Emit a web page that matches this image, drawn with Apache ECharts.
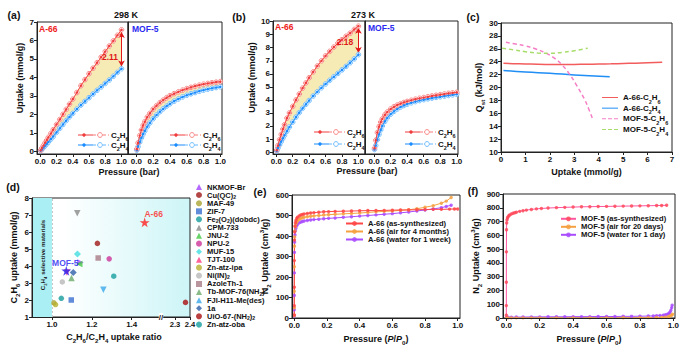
<!DOCTYPE html>
<html><head><meta charset="utf-8">
<script src="https://cdn.jsdelivr.net/npm/echarts@6.0.0/dist/echarts.min.js"></script>
<style>html,body{margin:0;padding:0;background:#fff}#c{width:693px;height:348px}</style>
</head><body><div id="c"></div>
<script>
const FONT = '"Liberation Sans", Arial, Helvetica, sans-serif';

// ---------------- (a)/(b) isotherm data ----------------
const pressure = [0.005,0.02,0.04,0.06,0.08,0.1,0.13,0.16,0.2,0.24,0.28,0.32,0.36,0.4,0.45,0.5,0.55,0.6,0.65,0.7,0.75,0.8,0.85,0.9,0.95,1.0];
const a66_298_C2H6 = [0.05,0.17,0.31,0.46,0.6,0.75,0.96,1.17,1.45,1.72,2.0,2.27,2.55,2.82,3.18,3.55,3.88,4.2,4.5,4.8,5.1,5.4,5.7,5.98,6.28,6.58];
const a66_298_C2H4 = [0.03,0.1,0.2,0.3,0.4,0.5,0.65,0.8,1.02,1.24,1.45,1.66,1.86,2.05,2.28,2.5,2.7,2.9,3.1,3.3,3.48,3.67,3.86,4.06,4.27,4.47];
const mof5_298_C2H6 = [0.12,0.45,0.85,1.15,1.4,1.6,1.85,2.05,2.28,2.47,2.63,2.77,2.9,3.01,3.12,3.22,3.31,3.39,3.46,3.52,3.58,3.63,3.67,3.71,3.74,3.77];
const mof5_298_C2H4 = [0.06,0.25,0.5,0.72,0.92,1.1,1.33,1.53,1.76,1.96,2.14,2.3,2.44,2.57,2.71,2.83,2.94,3.03,3.11,3.18,3.25,3.31,3.36,3.41,3.45,3.49];
const a66_273_C2H6 = [0.15,0.5,0.95,1.35,1.75,2.1,2.6,3.0,3.5,4.0,4.45,4.9,5.3,5.7,6.15,6.6,7.0,7.38,7.72,8.05,8.35,8.62,8.88,9.12,9.4,9.65];
const a66_273_C2H4 = [0.08,0.3,0.55,0.8,1.05,1.28,1.6,1.92,2.3,2.68,3.02,3.35,3.66,3.95,4.3,4.62,4.93,5.22,5.5,5.77,6.03,6.3,6.57,6.85,7.15,7.47];
const mof5_273_C2H6 = [0.3,0.9,1.5,1.95,2.3,2.55,2.85,3.07,3.3,3.47,3.6,3.71,3.8,3.88,3.97,4.05,4.12,4.18,4.24,4.3,4.35,4.4,4.45,4.5,4.54,4.58];
const mof5_273_C2H4 = [0.2,0.5,0.95,1.35,1.7,2.0,2.35,2.62,2.9,3.12,3.3,3.45,3.57,3.67,3.78,3.87,3.95,4.02,4.08,4.14,4.19,4.24,4.29,4.34,4.39,4.43];
const pressureTicks = [0,0.2,0.4,0.6,0.8,1.0];
const uptakeTicks298 = [0,1,2,3,4,5,6,7];
const uptakeTicks273 = [0,1,2,3,4,5,6,7,8,9,10];

// ---------------- (c) Qst ----------------
const qA66C2H6_x = [0.1,0.5,1,1.5,2,2.5,3,3.5,4,4.5,5,5.5,6,6.6];
const qA66C2H6_y = [23.75,23.7,23.65,23.6,23.58,23.57,23.58,23.6,23.63,23.67,23.72,23.77,23.83,23.9];
const qA66C2H4_x = [0.1,1,2,3,4.45];
const qA66C2H4_y = [22.65,22.4,22.2,21.95,21.65];
const qMOF5C2H6_x = [0.2,0.6,1.0,1.4,1.8,2.2,2.5,2.8,3.1,3.4,3.6,3.75];
const qMOF5C2H6_y = [27.0,26.75,26.45,26.0,25.4,24.5,23.5,22.1,20.3,18.3,16.6,15.1];
const qMOF5C2H4_x = [0.05,0.5,1.0,1.5,2.0,2.5,3.0,3.55];
const qMOF5C2H4_y = [26.1,25.85,25.55,25.35,25.3,25.45,25.7,26.1];

// ---------------- (d) comparison ----------------
const dNames = ['NKMOF-Br','Cu(QC)_2','MAF-49','ZIF-7','Fe_2(O_2)(dobdc)','CPM-733','JNU-2','NPU-2','MUF-15','TJT-100','Zn-atz-ipa','Ni(IN)_2','AzoleTh-1','Tb-MOF-76(NH_2)','FJI-H11-Me(des)','1a','UiO-67-(NH_2)_2','Zn-atz-oba'];
const dRatio  = [1.143,1.228,1.01,1.097,1.047,1.127,1.137,1.287,1.128,1.075,1.018,1.052,1.232,1.098,1.258,1.107,2.37,1.31];
const dUptake = [4.2,5.33,1.83,2.0,2.1,7.1,4.12,4.42,4.7,3.62,1.73,3.06,4.47,3.3,2.6,3.62,1.86,3.4];
const dStarNames = ['A-66','MOF-5'];
const dStarRatio = [1.465,1.072];
const dStarUptake = [6.57,3.72];
const dXTicks = [1.0,1.2,1.4];
const dXTicksBreak = [2.3,2.4];

// ---------------- (e) N2 A-66 ----------------
const eP_as = [0.00001,0.00003,0.0001,0.0003,0.001,0.002,0.004,0.007,0.01,0.015,0.02,0.03,0.04,0.05,0.06,0.08,0.1,0.12,0.15,0.18,0.21,0.25,0.3,0.35,0.4,0.45,0.5,0.55,0.6,0.65,0.7,0.75,0.8,0.85,0.9,0.95,0.98,1.0];
const eN2_as = [15,60,150,280,380,420,448,465,476,486,492,498,502,505,507,510,512,514,516,518,519,520,521,522,523,524,524,525,526,527,527,528,529,530,530,531,532,532];
const eP_air = [0.00001,0.00003,0.0001,0.0003,0.001,0.002,0.004,0.007,0.01,0.015,0.02,0.03,0.04,0.05,0.06,0.08,0.1,0.12,0.15,0.18,0.21,0.25,0.3,0.35,0.4,0.45,0.5,0.55,0.6,0.65,0.7,0.75,0.8,0.85,0.9,0.93,0.96];
const eN2_air = [12,50,130,250,350,395,425,445,458,468,474,481,486,489,491,494,496,498,500,502,504,506,508,510,512,515,518,520,522,525,528,533,540,548,560,570,588];
const eP_water = [0.00001,0.00003,0.0001,0.0003,0.001,0.002,0.004,0.007,0.01,0.015,0.02,0.03,0.04,0.05,0.06,0.08,0.1,0.12,0.15,0.18,0.21,0.25,0.3,0.35,0.4,0.45,0.5,0.55,0.6,0.65,0.7,0.75,0.8,0.85,0.9,0.93,0.96];
const eN2_water = [10,40,110,220,320,370,405,425,438,450,457,464,468,471,473,476,478,480,482,484,486,488,491,494,497,500,503,506,509,513,517,522,527,532,538,544,550];

// ---------------- (f) N2 MOF-5 ----------------
const fP_as = [0.00001,0.00003,0.0001,0.0003,0.001,0.002,0.004,0.007,0.01,0.015,0.02,0.03,0.04,0.05,0.06,0.08,0.1,0.12,0.15,0.18,0.21,0.25,0.3,0.35,0.4,0.45,0.5,0.55,0.6,0.65,0.7,0.75,0.8,0.85,0.9,0.93,0.96];
const fN2_as = [20,90,260,480,640,690,712,726,734,742,748,755,760,764,768,774,779,783,788,792,795,798,801,803,805,807,808,809,810,811,812,813,814,815,816,817,818];
const fP_air = [0.001,0.01,0.03,0.06,0.1,0.15,0.2,0.3,0.4,0.5,0.6,0.7,0.8,0.85,0.9,0.93,0.95,0.97,0.98,0.99,0.995];
const fN2_air = [1,1,1,1,1,1,1,1,1,1,1,1.5,2,2.5,3,4,6,10,14,20,27];
const fP_water = [0.001,0.01,0.03,0.06,0.1,0.15,0.2,0.25,0.3,0.35,0.4,0.45,0.5,0.55,0.6,0.65,0.7,0.75,0.8,0.85,0.88,0.9,0.92,0.94,0.95,0.96,0.97,0.975,0.98,0.985,0.99,0.993];
const fN2_water = [3,5,6,7,7,8,8,9,9,9,10,10,10,11,11,11,12,12,13,14,15,16,18,20,22,25,30,35,42,55,75,92];

// ---------------- helpers ----------------
function toRich(s, base){
  let out='', buf='', i=0;
  const flush=()=>{ if(buf){ out+='{'+base+'|'+buf+'}'; buf=''; } };
  while(i<s.length){
    const ch=s[i];
    if(ch==='_'||ch==='^'){ flush(); out+='{'+base+(ch==='_'?'Sub':'Sup')+'|'+s[i+1]+'}'; i+=2; }
    else if(ch==='~'){ flush(); out+='{'+base+'It|'+s[i+1]+'}'; i+=2; }
    else { buf+=ch; i++; }
  }
  flush(); return out;
}
function richSet(base, size, color, lh){
  const L = lh || size+4, ss = size*0.68;
  const r = {};
  r[base] = {fontSize:size, fontWeight:'bold', fontFamily:FONT, color, lineHeight:L};
  r[base+'It'] = {fontSize:size, fontWeight:'bold', fontStyle:'italic', fontFamily:FONT, color, lineHeight:L};
  r[base+'Sub'] = {fontSize:ss, fontWeight:'bold', fontFamily:FONT, color, verticalAlign:'bottom', lineHeight:ss+1};
  r[base+'Sup'] = {fontSize:ss, fontWeight:'bold', fontFamily:FONT, color, verticalAlign:'top', lineHeight:ss+1};
  return r;
}
const zip = (xs, ys) => xs.map((x,i)=>[x, ys[i]]);
const fmt1 = v => Number(v).toFixed(1);

const grids = [
  {left:37, top:22, width:91, height:132},   // 0 a left
  {left:128, top:22, width:94, height:132},  // 1 a right
  {left:273, top:21, width:92, height:133},  // 2 b left
  {left:365, top:21, width:93, height:133},  // 3 b right
  {left:501, top:23, width:171, height:129}, // 4 c
  {left:32, top:198, width:131, height:119}, // 5 d main
  {left:163, top:198, width:27, height:119}, // 6 d break
  {left:292, top:195, width:168, height:123},// 7 e
  {left:503, top:194, width:172, height:124},// 8 f
  {left:32, top:198, width:158, height:119}  // 9 d frame
].map((g,i)=>Object.assign({show:i!==5&&i!==6, borderColor:'#222', borderWidth:1, containLabel:false,
   backgroundColor: i===9 ? {type:'linear',x:0,y:0,x2:1,y2:0,colorStops:[{offset:0,color:'#ffffff'},{offset:0.2,color:'#ffffff'},{offset:1,color:'#cdf5f7'}]} : 'transparent',
   z: i===9 ? 0 : 3}, g));

const LBL = {color:'#111', fontSize:8, fontWeight:'bold', fontFamily:FONT, margin:3};
function vAxis(grid, min, max, opts){
  const o = opts||{};
  return Object.assign({type:'value', gridIndex:grid, min, max, interval:o.interval, z:4,
    axisLine:{show:o.line!==false, onZero:false, lineStyle:{color:'#222', width:1}},
    axisTick:{show:o.ticks!==false, inside:false, length:3, lineStyle:{color:'#222'}, customValues:o.custom},
    axisLabel:Object.assign({show:o.labels!==false, customValues:o.custom, formatter:o.fmt}, LBL, o.lbl||{}),
    splitLine:{show:false}}, o.extra||{});
}

const nameRich9 = richSet('n', 9, '#111');
const xAxes = [
  vAxis(0, -0.04, 1.08, {custom:pressureTicks, fmt:fmt1}),
  vAxis(1, -0.1, 1.02, {custom:pressureTicks, fmt:fmt1}),
  vAxis(2, -0.04, 1.08, {custom:pressureTicks, fmt:fmt1}),
  vAxis(3, -0.11, 1.015, {custom:pressureTicks, fmt:fmt1}),
  vAxis(4, 0, 7, {interval:1, extra:{name:toRich('Uptake (mmol/g)','n'), nameLocation:'middle', nameGap:13, nameTextStyle:{rich:nameRich9}}}),
  vAxis(5, 0.9, 1.557, {custom:dXTicks, fmt:fmt1}),
  vAxis(6, 2.22, 2.4, {custom:dXTicksBreak, fmt:fmt1, lbl:{fontSize:7.6}}),
  vAxis(7, -0.014, 1.014, {custom:pressureTicks, fmt:fmt1, extra:{name:toRich('Pressure (~P/~P_0)','n'), nameLocation:'middle', nameGap:14, nameTextStyle:{rich:nameRich9}}}),
  vAxis(8, -0.02, 1.01, {custom:pressureTicks, fmt:fmt1, extra:{name:toRich('Pressure (~P/~P_0)','n'), nameLocation:'middle', nameGap:14, nameTextStyle:{rich:nameRich9}}}),
  {type:'value', gridIndex:9, show:false, min:0, max:1}
];
const yAxes = [
  vAxis(0, -0.15, 7, {custom:uptakeTicks298, extra:{name:toRich('Uptake (mmol/g)','n'), nameLocation:'middle', nameGap:11, nameRotate:90, nameTextStyle:{rich:nameRich9, padding:[0,0,0,20]}}}),
  vAxis(1, -0.15, 7, {labels:false, ticks:false}),
  vAxis(2, -0.15, 10.05, {custom:uptakeTicks273, extra:{name:toRich('Uptake (mmol/g)','n'), nameLocation:'middle', nameGap:15, nameRotate:90, nameTextStyle:{rich:nameRich9, padding:[0,0,0,20]}}}),
  vAxis(3, -0.15, 10.05, {labels:false, ticks:false}),
  vAxis(4, 10, 30, {interval:2, extra:{name:toRich('Q_s_t (kJ/mol)','n'), nameLocation:'middle', nameGap:14, nameRotate:90, nameTextStyle:{rich:nameRich9}}}),
  vAxis(5, 1, 8, {interval:1, extra:{name:toRich('C_2H_6 uptake (mmol/g)','n'), nameLocation:'middle', nameGap:10, nameRotate:90, nameTextStyle:{rich:nameRich9}}}),
  vAxis(6, 1, 8, {labels:false, ticks:false, line:false}),
  vAxis(7, 0, 600, {interval:100, extra:{name:toRich('N_2 Uptake (cm^3/g)','n'), nameLocation:'middle', nameGap:19, nameRotate:90, nameTextStyle:{rich:nameRich9}}}),
  vAxis(8, 0, 900, {interval:100, extra:{name:toRich('N_2 Uptake (cm^3/g)','n'), nameLocation:'middle', nameGap:19, nameRotate:90, nameTextStyle:{rich:nameRich9}}}),
  {type:'value', gridIndex:9, show:false, min:0, max:1}
];

const RED='#f03c3c', RED_L='#f77a7a', BLUE='#1a8cff', BLUE_L='#62b6ff', FILL='#f5e8ad';
const series = [];
function isoPanel(ax, c2h6, c2h4, arrow){
  // yellow band between the two isotherms, built from the data through the axes
  series.push({type:'custom', xAxisIndex:ax, yAxisIndex:ax, data:[[pressure[0], c2h4[0]]], silent:true, z:1, clip:true,
    renderItem:(params, api)=>{
      const upper = pressure.map((p,i)=>api.coord([p, c2h6[i]]));
      const lower = pressure.map((p,i)=>api.coord([p, c2h4[i]])).reverse();
      return {type:'polygon', shape:{points:upper.concat(lower)}, style:{fill:FILL, opacity:0.9}};
    }});
  const curve = (arr, col, lcol, name) => {
    series.push({type:'line', name:name+' des', xAxisIndex:ax, yAxisIndex:ax, data:zip(pressure,arr), symbol:'circle', symbolSize:4.6,
      itemStyle:{color:'#fff', borderColor:lcol, borderWidth:0.9}, lineStyle:{color:lcol, width:0.8, type:[3,2]}, z:5});
    const s = {type:'line', name:name+' ads', xAxisIndex:ax, yAxisIndex:ax, data:zip(pressure,arr), symbol:'circle', symbolSize:2.6,
      itemStyle:{color:col}, lineStyle:{color:col, width:0.9}, z:6};
    series.push(s); return s;
  };
  curve(c2h4, BLUE, BLUE_L, 'C2H4-'+ax);
  const top = curve(c2h6, RED, RED_L, 'C2H6-'+ax);
  if(arrow){
    const n = pressure.length-1;
    top.markLine = {silent:true, symbol:['arrow','arrow'], symbolSize:[5,6], label:{show:false},
      lineStyle:{color:'#e01818', width:1, type:'solid'},
      data:[[{coord:[pressure[n], c2h4[n]+0.12]},{coord:[pressure[n], c2h6[n]-0.12]}]]};
  }
}
isoPanel(0, a66_298_C2H6, a66_298_C2H4, true);
isoPanel(1, mof5_298_C2H6, mof5_298_C2H4, false);
isoPanel(2, a66_273_C2H6, a66_273_C2H4, true);
isoPanel(3, mof5_273_C2H6, mof5_273_C2H4, false);

// (c)
const SOLID_ICON = 'path://M0,0h16v1h-16z';
const DASH_ICON = 'path://M0,0h4v1h-4z M6,0h4v1h-4z M12,0h4v1h-4z';
const qDefs = [
  ['A-66-C_2H_6', qA66C2H6_x, qA66C2H6_y, '#f25c5c', 'solid', SOLID_ICON],
  ['A-66-C_2H_4', qA66C2H4_x, qA66C2H4_y, '#1f8ef5', 'solid', SOLID_ICON],
  ['MOF-5-C_2H_6', qMOF5C2H6_x, qMOF5C2H6_y, '#f57fc6', [4,3], DASH_ICON],
  ['MOF-5-C_2H_4', qMOF5C2H4_x, qMOF5C2H4_y, '#a8dc6a', [4,3], DASH_ICON]
];
qDefs.forEach(d=>series.push({type:'line', name:d[0], xAxisIndex:4, yAxisIndex:4, data:zip(d[1],d[2]), smooth:true, symbol:'none',
  lineStyle:{color:d[3], width:1.5, type:d[4]}, itemStyle:{color:d[3]}}));

// (d)
const dColors = ['#a044ff','#a01818','#aaa433','#3a6fd0','#169c9c','#8a8a8a','#44c844','#cc3399','#44dde0','#ff3a80','#b8b030','#b8b8b8','#a87a86','#6aaa6a','#3aa8ea','#2f5fa8','#aa1010','#169f9f'];
const dSymbols = ['triangle','circle','circle','rect','circle','triangle','triangle','circle','diamond','triangle','circle','circle','rect','triangle','triangle','diamond','circle','circle'];
const dRotate = [-90,0,0,0,0,180,90,0,0,180,0,0,0,0,180,0,0,0];
series.push({type:'scatter', xAxisIndex:5, yAxisIndex:5, data:[], silent:true,
  markArea:{silent:true, itemStyle:{color:'#a9eff3'}, data:[[{xAxis:0.9},{xAxis:1.0}]]},
  markLine:{silent:true, symbol:'none', label:{show:false}, lineStyle:{color:'#c8c8c8', type:[2,2], width:1}, data:[{xAxis:1.0}]}});
dNames.forEach((nm,i)=>{
  const brk = dRatio[i] > 2;
  series.push({type:'scatter', name:nm, xAxisIndex:brk?6:5, yAxisIndex:brk?6:5, data:[[dRatio[i], dUptake[i]]],
    symbol:dSymbols[i], symbolRotate:dRotate[i], symbolSize: dSymbols[i]==='diamond'?7:(dSymbols[i]==='triangle'?6.5:5.5),
    itemStyle:{color:dColors[i]}, z:5});
});
const STAR = 'path://M50,0 L61,35 L98,35 L68,57 L79,91 L50,70 L21,91 L32,57 L2,35 L39,35 Z';
const starCols = ['#ff1f1f','#2020f0'];
const starOff = [[9,-8],[-1,-8]];
dStarNames.forEach((nm,i)=>series.push({type:'scatter', name:nm, xAxisIndex:5, yAxisIndex:5, data:[[dStarRatio[i], dStarUptake[i]]],
  symbol:STAR, symbolSize:10, itemStyle:{color:starCols[i]}, z:6,
  label:{show:true, formatter:nm, position:'inside', offset:starOff[i], color:starCols[i], fontSize:8.5, fontWeight:'bold', fontFamily:FONT}}));

// (e)
const eDefs = [
  ['A-66 (water for 1 week)', eP_water, eN2_water, '#a94cff'],
  ['A-66 (air for 4 months)', eP_air, eN2_air, '#f5a142'],
  ['A-66 (as-synthesized)', eP_as, eN2_as, '#ff4747']
];
eDefs.forEach(d=>series.push({type:'line', name:d[0], xAxisIndex:7, yAxisIndex:7, data:zip(d[1],d[2]), symbol:'circle', symbolSize:3.4,
  itemStyle:{color:d[3], opacity:0.85}, lineStyle:{color:d[3], width:1}}));
// (f)
const fDefs = [
  ['MOF-5 (water for 1 day)', fP_water, fN2_water, '#a94cff'],
  ['MOF-5 (air for 20 days)', fP_air, fN2_air, '#f5a142'],
  ['MOF-5 (as-synthesized)', fP_as, fN2_as, '#ff4a5a']
];
fDefs.forEach(d=>series.push({type:'line', name:d[0], xAxisIndex:8, yAxisIndex:8, data:zip(d[1],d[2]), symbol:'circle', symbolSize:3.4,
  itemStyle:{color:d[3], opacity:0.85}, lineStyle:{color:d[3]==='#ff4a5a'?'#ff55a0':d[3], width:1}}));

// legends
function mkLegend(names, left, top, lh, iw, ih, size, icons){
  return {data:names.map((n,i)=>icons?{name:n, icon:icons[i]}:{name:n}), left, top, orient:'vertical', padding:0, itemGap:0, itemWidth:iw, itemHeight:ih, selectedMode:false,
    formatter:(n)=>toRich(n,'n'), textStyle:{rich:richSet('n', size, '#111', lh)}};
}
const legends = [
  mkLegend(qDefs.map(d=>d[0]), 602, 93.5, 13.3, 16, 1.6, 8, qDefs.map(d=>d[5])),
  mkLegend(dNames, 196, 183, 8.65, 6, 6, 7.5),
  mkLegend(['A-66 (as-synthesized)','A-66 (air for 4 months)','A-66 (water for 1 week)'], 345, 219.5, 10.8, 17, 6, 7.6),
  mkLegend(['MOF-5 (as-synthesized)','MOF-5 (air for 20 days)','MOF-5 (water for 1 day)'], 560, 214.8, 10.5, 15, 6, 7.6)
];

// graphics
const G = [];
function txt(x, y, text, size, color, align, rot, rich){
  G.push({type:'text', x, y, rotation:rot||0, z:50, silent:true,
    style:{text, fill:color||'#111', font:'bold '+size+'px '+FONT, fontSize:size, fontWeight:'bold', fontFamily:FONT,
      align:align||'center', verticalAlign:'middle', textAlign:align||'center', textVerticalAlign:'middle', rich}});
}
function legSample(x0, y, col, lcol, label){
  G.push({type:'line', z:50, silent:true, shape:{x1:x0, y1:y, x2:x0+15, y2:y}, style:{stroke:col, lineWidth:1}});
  G.push({type:'line', z:50, silent:true, shape:{x1:x0+15, y1:y, x2:x0+31, y2:y}, style:{stroke:lcol, lineWidth:1, lineDash:[3,2]}});
  G.push({type:'circle', z:51, silent:true, shape:{cx:x0+6, cy:y, r:1.7}, style:{fill:col}});
  G.push({type:'circle', z:51, silent:true, shape:{cx:x0+22, cy:y, r:2.4}, style:{fill:'#fff', stroke:lcol, lineWidth:0.9}});
  txt(x0+33, y, toRich(label,'n'), 8, '#111', 'left', 0, richSet('n', 8, '#111'));
}
legSample(78, 135, RED, RED_L, 'C_2H_6'); legSample(78, 145, BLUE, BLUE_L, 'C_2H_4');
legSample(170, 135, RED, RED_L, 'C_2H_6'); legSample(170, 145, BLUE, BLUE_L, 'C_2H_4');
legSample(314, 132, RED, RED_L, 'C_2H_6'); legSample(314, 144, BLUE, BLUE_L, 'C_2H_4');
legSample(405, 132, RED, RED_L, 'C_2H_6'); legSample(405, 144, BLUE, BLUE_L, 'C_2H_4');

txt(14, 15, '(a)', 10.5); txt(239, 17, '(b)', 10.5); txt(473, 17, '(c)', 10.5);
txt(13, 187, '(d)', 10.5); txt(260, 192, '(e)', 10.5); txt(473, 191, '(f)', 10.5);
txt(126, 15, '298 K', 9); txt(363, 15, '273 K', 9);
txt(39, 29, 'A-66', 8.5, '#ee2020', 'left'); txt(132, 29, 'MOF-5', 8.5, '#2a2af0', 'left');
txt(275, 27, 'A-66', 8.5, '#ee2020', 'left'); txt(368, 28, 'MOF-5', 8.5, '#2a2af0', 'left');
txt(110, 57, '2.11', 8.5, '#e01818'); txt(345, 42, '2.18', 8.5, '#e01818');
txt(129, 172, 'Pressure (bar)', 9); txt(367, 171, 'Pressure (bar)', 9);
txt(114, 337, toRich('C_2H_6/C_2H_4 uptake ratio','n'), 9, '#111', 'center', 0, richSet('n', 9, '#111'));
txt(42.5, 255, toRich('C_2H_4 selective materials','n'), 6.2, '#222', 'center', Math.PI/2, richSet('n', 6.2, '#222'));
G.push({type:'text', x:161, y:317, z:60, silent:true, style:{text:'//', font:'bold 8px '+FONT, fill:'#222', align:'center', verticalAlign:'middle', textAlign:'center', textVerticalAlign:'middle', backgroundColor:'#fff'}});

const chart = echarts.init(document.getElementById('c'), null, {renderer:'svg', width:693, height:348});
chart.setOption({
  animation:false, backgroundColor:'#fff',
  textStyle:{fontFamily:FONT},
  grid:grids, xAxis:xAxes, yAxis:yAxes, series, legend:legends, graphic:G
});
</script></body></html>
